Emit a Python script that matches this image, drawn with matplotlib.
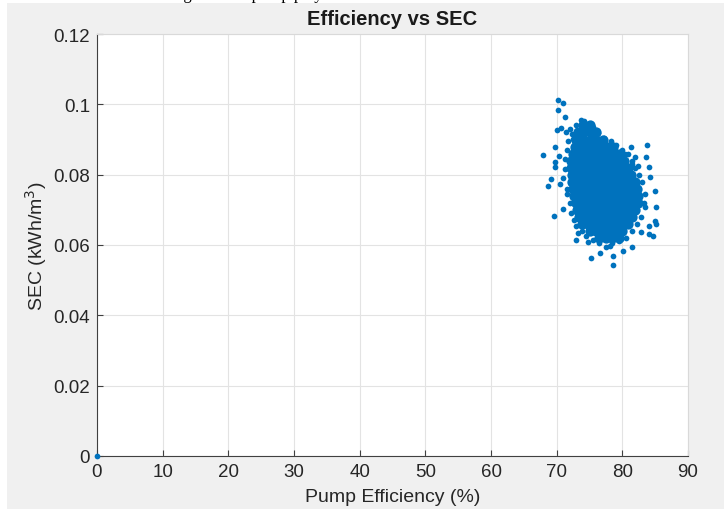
import matplotlib
matplotlib.use("Agg")
import matplotlib.pyplot as plt
from matplotlib.patches import Rectangle

plt.rcParams['font.family'] = ['Liberation Sans', 'DejaVu Sans']

# ---------------- data ----------------
title = "Efficiency vs SEC"
xlabel = "Pump Efficiency (%)"
ylabel = "SEC (kWh/m$^3$)"
xticks = [0, 10, 20, 30, 40, 50, 60, 70, 80, 90]
yticks = [0, 0.02, 0.04, 0.06, 0.08, 0.1, 0.12]
ytick_labels = ["0", "0.02", "0.04", "0.06", "0.08", "0.1", "0.12"]

# dense core of the point cloud, row by row
core_rows = {
    0.094: [74.0, 75.0],
    0.092: [73.2, 74.2, 75.2, 76.0],
    0.090: [73.0, 74.0, 75.0, 76.0, 77.0],
    0.088: [72.8, 73.8, 74.8, 75.8, 76.8, 77.8, 78.6],
    0.086: [72.5, 73.5, 74.5, 75.5, 76.5, 77.5, 78.5, 79.5],
    0.084: [72.2, 73.2, 74.2, 75.2, 76.2, 77.2, 78.2, 79.2, 80.2],
    0.082: [72.2, 73.2, 74.2, 75.2, 76.2, 77.2, 78.2, 79.2, 80.2, 80.9],
    0.080: [72.4, 73.4, 74.4, 75.4, 76.4, 77.4, 78.4, 79.4, 80.4, 81.3],
    0.078: [72.3, 73.3, 74.3, 75.3, 76.3, 77.3, 78.3, 79.3, 80.3, 81.3, 82.0],
    0.076: [72.5, 73.5, 74.5, 75.5, 76.5, 77.5, 78.5, 79.5, 80.5, 81.5, 82.3],
    0.074: [72.7, 73.7, 74.7, 75.7, 76.7, 77.7, 78.7, 79.7, 80.7, 81.7, 82.4],
    0.072: [72.9, 73.9, 74.9, 75.9, 76.9, 77.9, 78.9, 79.9, 80.9, 81.9, 82.4],
    0.070: [73.1, 74.1, 75.1, 76.1, 77.1, 78.1, 79.1, 80.1, 81.1, 82.0],
    0.068: [73.4, 74.4, 75.4, 76.4, 77.4, 78.4, 79.4, 80.4, 81.4],
    0.066: [73.8, 74.8, 75.8, 76.8, 77.8, 78.8, 79.8, 80.8],
    0.064: [75.0, 76.0, 77.0, 78.0, 79.0, 80.0],
    0.062: [76.5, 77.5, 78.5, 79.5],
}

# individual points at the rim of the cloud and outliers
edge_x = [70.2, 71.0, 70.2, 71.2, 73.7, 70.1, 70.6, 71.4, 72.0, 72.5,
          69.7, 67.9, 70.4, 69.7, 69.8, 69.2, 68.7, 70.5, 71.0, 69.6,
          73.2, 72.9, 74.7, 75.2, 81.3, 83.8, 83.6, 81.9, 82.4, 84.0,
          84.2, 81.4, 80.4, 85.0, 85.2, 85.0, 85.2, 84.0, 84.0, 84.7,
          83.4, 82.9, 81.4, 80.1, 78.6, 78.6, 76.6, 78.1,
          71.3, 71.0, 71.5, 71.6, 72.0, 72.2, 72.6, 73.0, 73.8, 74.5,
          75.6, 76.5, 77.5, 78.5, 79.5, 80.5, 81.5, 82.2, 82.8, 83.3,
          83.5, 83.0, 82.6, 82.0, 81.5, 80.8, 80.0, 79.0, 78.2, 77.2,
          76.3, 75.5, 74.8, 74.2, 73.0, 72.3, 71.8, 71.5, 71.2, 0.0]
edge_y = [0.1011, 0.1003, 0.0984, 0.0963, 0.0955, 0.0927, 0.0932, 0.0920, 0.0930, 0.0901,
          0.0878, 0.0855, 0.0854, 0.0835, 0.0823, 0.0788, 0.0769, 0.0773, 0.0702, 0.0683,
          0.0634, 0.0614, 0.0609, 0.0562, 0.0878, 0.0885, 0.0849, 0.0851, 0.0825, 0.0821,
          0.0794, 0.0830, 0.0859, 0.0754, 0.0707, 0.0669, 0.0660, 0.0655, 0.0631, 0.0626,
          0.0707, 0.0636, 0.0593, 0.0584, 0.0570, 0.0543, 0.0577, 0.0598,
          0.0815, 0.0790, 0.0760, 0.0745, 0.0720, 0.0690, 0.0670, 0.0655, 0.0640, 0.0625,
          0.0615, 0.0605, 0.0595, 0.0605, 0.0610, 0.0620, 0.0640, 0.0660, 0.0680, 0.0720,
          0.0745, 0.0780, 0.0800, 0.0820, 0.0840, 0.0860, 0.0870, 0.0885, 0.0895, 0.0905,
          0.0918, 0.0935, 0.0945, 0.0952, 0.0940, 0.0915, 0.0895, 0.0870, 0.0845, 0.0]

caption = "against the pump play"

# ---------------- figure ----------------
W, H = 725, 510
fig = plt.figure(figsize=(W / 100, H / 100), dpi=100, facecolor='white')
bg = Rectangle((7 / W, 0), (724 - 7) / W, (H - 4) / H,
               transform=fig.transFigure, facecolor='#f0f0f0',
               edgecolor='none', zorder=-10)
fig.add_artist(bg)
fig.text(176 / W, 1.0 + 1.0 / H, caption, family='Liberation Serif', fontsize=12,
         color='black', va='baseline', ha='left', zorder=-5)

ax = fig.add_axes([97 / W, (H - 457) / H, 591 / W, 422 / H])
ax.set_zorder(5)
ax.set_facecolor('white')

blue = '#0072BD'
core_x = [x for y, xs in core_rows.items() for x in xs]
core_y = [y for y, xs in core_rows.items() for x in xs]
ax.scatter(core_x, core_y, s=55, color=blue, linewidths=0, zorder=3)
ax.scatter(edge_x, edge_y, s=17, color=blue, linewidths=0, zorder=3, clip_on=False)

ax.set_xlim(0, 90)
ax.set_ylim(0, 0.12)
ax.set_xticks(xticks)
ax.set_xticklabels([str(v) for v in xticks])
ax.set_yticks(yticks)
ax.set_yticklabels(ytick_labels)
ax.grid(True, color='#e3e3e3', linewidth=0.8)
ax.set_axisbelow(True)

for s in ['left', 'bottom']:
    ax.spines[s].set_color('#404040')
    ax.spines[s].set_linewidth(0.8)
for s in ['top', 'right']:
    ax.spines[s].set_color('#d9d9d9')
    ax.spines[s].set_linewidth(0.8)

ax.tick_params(axis='both', direction='in', length=4, width=0.8, color='#404040',
               labelsize=13.5, labelcolor='#262626', pad=5)

ax.set_title(title, fontsize=14.5, fontweight='bold', color='#1a1a1a', pad=7)
ax.set_xlabel(xlabel, fontsize=14, color='#262626', labelpad=6)
ax.set_ylabel(ylabel, fontsize=14, color='#262626', labelpad=3)

fig.savefig('out.png', dpi=100, facecolor=fig.get_facecolor())
